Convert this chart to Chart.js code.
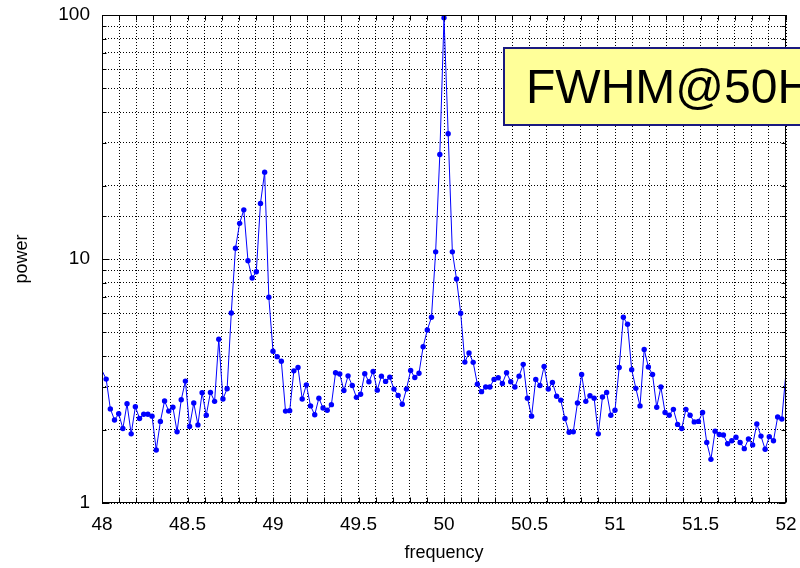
<!DOCTYPE html>
<html><head><meta charset="utf-8">
<script src="https://cdn.jsdelivr.net/npm/chart.js@4/dist/chart.umd.min.js"></script>
<style>html,body{margin:0;padding:0;background:#fff;overflow:hidden}#wrap{width:800px;height:568px;position:relative}</style>
</head><body><div id="wrap"><canvas id="c" width="800" height="568"></canvas></div>
<script>
const freqs = [
48.0000,48.0244,48.0488,48.0732,48.0976,48.1220,48.1463,48.1707,48.1951,48.2195,48.2439,48.2683,48.2927,48.3171,48.3415,48.3659,48.3902,48.4146,48.4390,48.4634,48.4878,48.5122,48.5366,48.5610,48.5854,48.6098,48.6341,48.6585,48.6829,48.7073,48.7317,48.7561,48.7805,48.8049,48.8293,48.8537,48.8780,48.9024,48.9268,48.9512,48.9756,
49.0000,49.0244,49.0488,49.0732,49.0976,49.1220,49.1463,49.1707,49.1951,49.2195,49.2439,49.2683,49.2927,49.3171,49.3415,49.3659,49.3902,49.4146,49.4390,49.4634,49.4878,49.5122,49.5366,49.5610,49.5854,49.6098,49.6341,49.6585,49.6829,49.7073,49.7317,49.7561,49.7805,49.8049,49.8293,49.8537,49.8780,49.9024,49.9268,49.9512,49.9756,
50.0000,50.0244,50.0488,50.0732,50.0976,50.1220,50.1463,50.1707,50.1951,50.2195,50.2439,50.2683,50.2927,50.3171,50.3415,50.3659,50.3902,50.4146,50.4390,50.4634,50.4878,50.5122,50.5366,50.5610,50.5854,50.6098,50.6341,50.6585,50.6829,50.7073,50.7317,50.7561,50.7805,50.8049,50.8293,50.8537,50.8780,50.9024,50.9268,50.9512,50.9756,
51.0000,51.0244,51.0488,51.0732,51.0976,51.1220,51.1463,51.1707,51.1951,51.2195,51.2439,51.2683,51.2927,51.3171,51.3415,51.3659,51.3902,51.4146,51.4390,51.4634,51.4878,51.5122,51.5366,51.5610,51.5854,51.6098,51.6341,51.6585,51.6829,51.7073,51.7317,51.7561,51.7805,51.8049,51.8293,51.8537,51.8780,51.9024,51.9268,51.9512,51.9756,
52.0000
];
const power = [
3.49,3.22,2.43,2.19,2.32,2.02,2.55,1.92,2.48,2.22,2.31,2.31,2.27,1.65,2.16,2.62,2.38,2.47,1.96,2.65,3.16,2.06,2.57,2.09,2.83,2.29,2.84,2.61,4.69,2.67,2.94,6.01,11.06,14.0,15.9,9.84,8.36,8.87,16.9,22.7,6.97,
4.19,3.98,3.81,2.38,2.39,3.48,3.59,2.67,3.05,2.50,2.30,2.69,2.45,2.40,2.53,3.42,3.38,2.89,3.32,3.03,2.71,2.79,3.39,3.14,3.46,2.90,3.31,3.15,3.28,2.93,2.76,2.54,2.93,3.49,3.27,3.40,4.37,5.12,5.77,10.7,26.8,
97.5,32.6,10.7,8.28,6.0,3.78,4.12,3.77,3.07,2.86,2.99,2.99,3.21,3.26,3.09,3.42,3.14,2.99,3.31,3.70,2.69,2.27,3.21,3.03,3.63,2.93,3.12,2.74,2.64,2.22,1.95,1.96,2.57,3.36,2.61,2.75,2.69,1.92,2.72,2.84,2.29,
2.40,3.59,5.77,5.40,3.52,2.95,2.50,4.26,3.61,3.36,2.47,2.99,2.35,2.29,2.42,2.10,2.02,2.42,2.29,2.15,2.16,2.35,1.77,1.51,1.97,1.91,1.90,1.75,1.80,1.86,1.77,1.67,1.83,1.73,2.11,1.88,1.66,1.87,1.80,2.25,2.21,
3.44
];
const xTickLabels = ['48','48.5','49','49.5','50','50.5','51','51.5','52'];
const yTickLabels = ['1','10','100'];
const xTitle = 'frequency';
const yTitle = 'power';
const boxText = 'FWHM@50Hz';

const FONT = '"Liberation Sans", Arial, Helvetica, sans-serif';

const framePlugin = {
  id: 'frame',
  afterDatasetsDraw(chart) {
    const {ctx, chartArea: a, scales: {x, y}} = chart;
    const L = Math.round(a.left) + 0.5, R = Math.round(a.right) - 0.5;
    const T = Math.round(a.top) + 0.5, B = Math.round(a.bottom) - 0.5;
    ctx.save();
    ctx.strokeStyle = '#000';
    ctx.lineWidth = 1;
    ctx.setLineDash([]);
    ctx.beginPath();
    x.ticks.forEach(t => {
      const px = Math.round(x.getPixelForValue(t.value)) + 0.5;
      ctx.moveTo(px, B); ctx.lineTo(px, B - 5);
      ctx.moveTo(px, T); ctx.lineTo(px, T + 5);
    });
    y.ticks.forEach(t => {
      const py = Math.round(y.getPixelForValue(t.value)) + 0.5;
      const major = yTickLabels.some(l => Math.abs(parseFloat(l) - t.value) < 1e-9);
      const len = major ? 7 : 4;
      ctx.moveTo(L, py); ctx.lineTo(L + len, py);
      ctx.moveTo(R, py); ctx.lineTo(R - len, py);
    });
    ctx.stroke();
    ctx.strokeRect(L, T, R - L, B - T);
    ctx.restore();
  }
};

const boxPlugin = {
  id: 'fwhmBox',
  afterDraw(chart) {
    const {ctx, chartArea: a} = chart;
    const left = a.left + 401, top = a.top + 32;
    ctx.save();
    ctx.fillStyle = '#ffff99';
    ctx.fillRect(left, top, 340, 79);
    ctx.strokeStyle = '#1a1a80';
    ctx.lineWidth = 2;
    ctx.strokeRect(left + 1, top + 1, 340, 77);
    ctx.fillStyle = '#000';
    ctx.font = '48px ' + FONT;
    ctx.textBaseline = 'alphabetic';
    ctx.fillText(boxText, left + 23, top + 56);
    ctx.restore();
  }
};

const points = freqs.map((f, i) => ({x: f, y: power[i]}));

new Chart(document.getElementById('c'), {
  type: 'line',
  data: {
    datasets: [{
      data: points,
      borderColor: '#0000ff',
      backgroundColor: '#0000ff',
      borderWidth: 1,
      pointBackgroundColor: '#0000ff',
      pointBorderWidth: 0,
      pointRadius: c => (c.raw && (c.raw.x <= 48.0001 || c.raw.x >= 51.9999)) ? 0 : 2.7,
      tension: 0,
      fill: false,
      clip: 0
    }]
  },
  options: {
    responsive: false,
    devicePixelRatio: 1,
    animation: false,
    layout: {padding: {left: 0, right: 14, top: 15, bottom: 0}},
    plugins: {legend: {display: false}, tooltip: {enabled: false}},
    scales: {
      x: {
        type: 'linear',
        min: 48, max: 52,
        afterFit: s => { s.height = 65; },
        ticks: {
          stepSize: 0.1,
          autoSkip: false,
          maxRotation: 0,
          maxTicksLimit: 1000,
          padding: 0,
          color: '#000',
          font: {family: FONT, size: 19},
          callback: v => {
            const s = xTickLabels.find(l => Math.abs(parseFloat(l) - v) < 1e-6);
            return s === undefined ? '' : s;
          }
        },
        grid: {color: '#000', lineWidth: 1, drawTicks: true, tickLength: 10, tickColor: 'rgba(0,0,0,0)'},
        border: {display: false, dash: [1, 2]},
        title: {display: true, text: xTitle, color: '#000', font: {family: FONT, size: 18}, padding: {top: 0, bottom: 4}}
      },
      y: {
        type: 'logarithmic',
        min: 1, max: 100,
        afterFit: s => { s.width = 102; },
        ticks: {
          autoSkip: false,
          padding: 0,
          color: '#000',
          font: {family: FONT, size: 19},
          callback: v => {
            const s = yTickLabels.find(l => Math.abs(parseFloat(l) - v) < 1e-9);
            return s === undefined ? '' : s;
          }
        },
        grid: {color: '#000', lineWidth: 1, drawTicks: true, tickLength: 12, tickColor: 'rgba(0,0,0,0)'},
        border: {display: false, dash: [1, 2]},
        title: {display: true, text: yTitle, color: '#000', font: {family: FONT, size: 18}, padding: {top: 11, bottom: 0}}
      }
    }
  },
  plugins: [framePlugin, boxPlugin]
});
</script>
</body></html>
